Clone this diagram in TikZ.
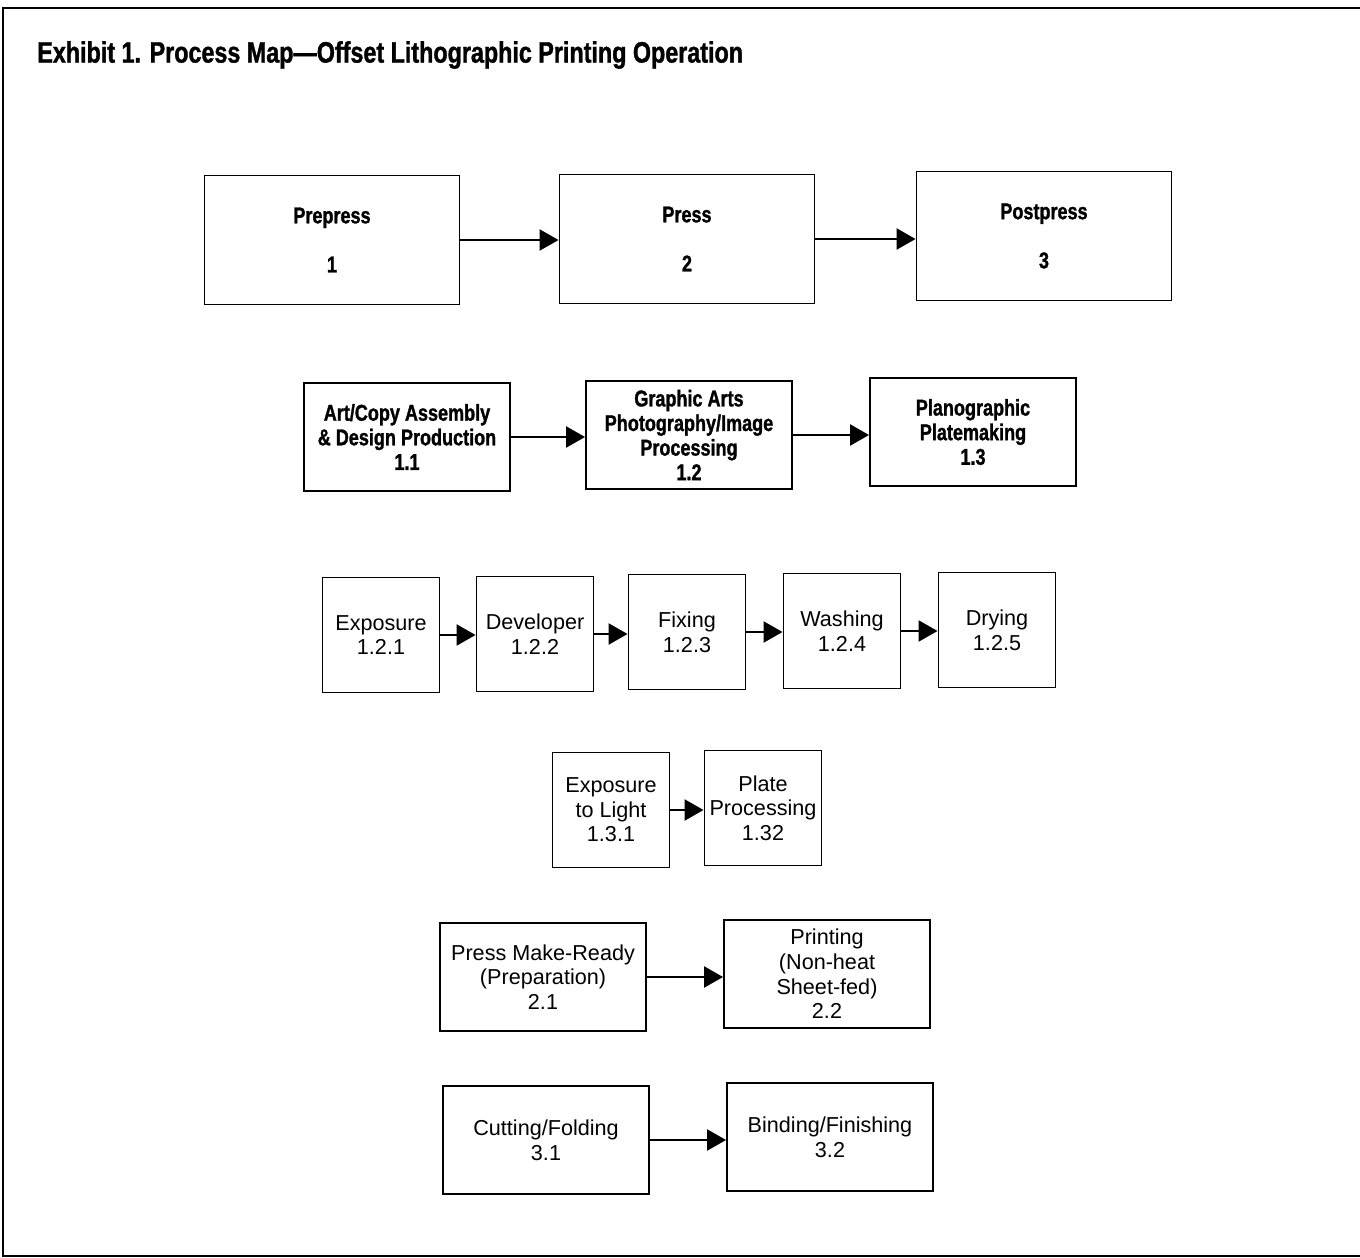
\documentclass[tikz,border=0pt]{standalone}
\usepackage{fontspec}
\setmainfont{Liberation Sans}
\newfontfamily\headfont[FakeStretch=0.79,BoldFeatures={FakeBold=1.2}]{Liberation Sans}
\usetikzlibrary{arrows.meta}

\begin{document}
\begin{tikzpicture}[
x=0.02cm, y=-0.02cm,
box/.style={
	draw, line width=1.1pt, align=center,
	inner sep=1pt, text=black,
	font=\fontsize{12.3}{14}\selectfont
},
head/.style={box, font=\headfont\bfseries\fontsize{13}{14}\selectfont},
top/.style={head, minimum width=5.1cm, minimum height=2.58cm},
wide/.style={minimum width=4.12cm, minimum height=2.16cm},
small/.style={box, minimum width=2.34cm, minimum height=2.3cm},
link/.style={line width=1.3pt, -{Triangle[length=0.38cm,width=0.42cm]}}
]
\useasboundingbox (0,0) rectangle (1360,1258);
\draw[line width=1pt] (1360,8) -- (3,8) -- (3,1256) -- (1360,1256);
\node[anchor=west, inner sep=0, font=\headfont\bfseries\fontsize{16.8}{18}\selectfont] (title) at (37,55)
	{Exhibit 1. Process Map—Offset Lithographic Printing Operation};

% level 0
\node[top] (pre) at (332,240) {Prepress\\[0.49cm]1};
\node[top] (press) at (687,239) {Press\\[0.49cm]2};
\node[top] (post) at (1044,236) {Postpress\\[0.49cm]3};

% level 1
\node[head,wide] (art) at (407,437) {Art/Copy Assembly\\\& Design Production\\1.1};
\node[head,wide] (graphic) at (689,435) {Graphic Arts\\Photography/Image\\Processing\\1.2};
\node[head,wide] (plano) at (973,432) {Planographic\\Platemaking\\1.3};

% level 2
\node[small] (expo) at (381,635) {Exposure\\1.2.1};
\node[small] (devel) at (535,634) {Developer\\1.2.2};
\node[small] (fix) at (687,632) {Fixing\\1.2.3};
\node[small] (wash) at (842,631) {Washing\\1.2.4};
\node[small] (dry) at (997,630) {Drying\\1.2.5};

\node[small] (light) at (611,810) {Exposure\\to Light\\1.3.1};
\node[small] (plate) at (763,808) {Plate\\Processing\\1.32};

\node[box,wide] (ready) at (543,977) {Press Make-Ready\\(Preparation)\\2.1};
\node[box,wide] (print) at (827,974) {Printing\\(Non-heat\\Sheet-fed)\\2.2};

\node[box,wide] (cut) at (546,1140) {Cutting/Folding\\3.1};
\node[box,wide] (bind) at (830,1137) {Binding/Finishing\\3.2};

% connectors
\foreach \a/\b in {pre/press,press/post,art/graphic,graphic/plano,expo/devel,devel/fix,fix/wash,wash/dry,light/plate,ready/print,cut/bind}
{
	\draw[link] (\a.east) -- (\a.east -| \b.west);
}
\end{tikzpicture}
\end{document}
